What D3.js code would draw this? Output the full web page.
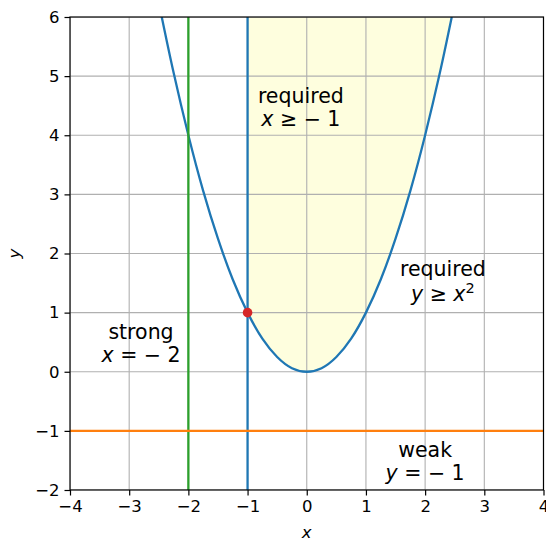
<!DOCTYPE html>
<html>
<head>
<meta charset="utf-8">
<script src="https://cdn.jsdelivr.net/npm/d3@7"></script>
<style>
  body { margin: 0; background: #fff; }
  svg { font-family: "DejaVu Sans", sans-serif; }
  .grid line { stroke: #b0b0b0; stroke-width: 1.1; }
  .note { font-size: 20.5px; fill: #000; }
</style>
</head>
<body>
<svg id="chart" width="546" height="541"></svg>
<script>
// axis ticks
var xTicks = [-4, -3, -2, -1, 0, 1, 2, 3, 4];
var yTicks = [-2, -1, 0, 1, 2, 3, 4, 5, 6];

// the curve y = x^2
var curveX = [-2.45, -2.25, -2, -1.75, -1.5, -1.25, -1, -0.75, -0.5, -0.25, 0, 0.25, 0.5, 0.75, 1, 1.25, 1.5, 1.75, 2, 2.25, 2.45];
var curveY = [6.0, 5.06, 4.0, 3.06, 2.25, 1.56, 1.0, 0.56, 0.25, 0.06, 0, 0.06, 0.25, 0.56, 1.0, 1.56, 2.25, 3.06, 4.0, 5.06, 6.0];

// constraint lines
var strongX = -2;
var requiredX = -1;
var weakY = -1;

// solution point
var solution = [-1, 1];

// annotations: anchor in data coords, two lines
var noteX = [-0.1, 2.3, -2.8, 2.0];
var noteY = [4.5, 1.5, 0.5, -1.5];
var noteTop = ["required", "required", "strong", "weak"];
var noteBottom = [
  [["x", true], [" ≥ − 1", false]],
  [["y", true], [" ≥ ", false], ["x", true], ["2", "sup"]],
  [["x", true], [" = − 2", false]],
  [["y", true], [" = − 1", false]]
];

var margin = {left: 70, right: 2.5, top: 17, bottom: 51};
var svg = d3.select("#chart");
var W = +svg.attr("width"), H = +svg.attr("height");
var w = W - margin.left - margin.right, h = H - margin.top - margin.bottom;

var x = d3.scaleLinear().domain([-4, 4]).range([0, w]);
var y = d3.scaleLinear().domain([-2, 6]).range([h, 0]);

var g = svg.append("g").attr("transform", "translate(" + margin.left + "," + margin.top + ")");

svg.append("defs").append("clipPath").attr("id", "clip")
  .append("rect").attr("width", w).attr("height", h);

var plot = g.append("g").attr("clip-path", "url(#clip)");

var pts = curveX.map(function(d, i) { return [d, curveY[i]]; });

// shaded feasible region
var region = pts.filter(function(d) { return d[0] >= requiredX; });
plot.append("path")
  .datum(region)
  .attr("fill", "#fefede")
  .attr("d", d3.area()
    .x(function(d) { return x(d[0]); })
    .y0(function(d) { return y(d[1]); })
    .y1(y(6))
    .curve(d3.curveNatural));

// grid
var grid = plot.append("g").attr("class", "grid");
grid.selectAll(".gx").data(xTicks).enter().append("line")
  .attr("x1", function(d) { return x(d); }).attr("x2", function(d) { return x(d); })
  .attr("y1", 0).attr("y2", h);
grid.selectAll(".gy").data(yTicks).enter().append("line")
  .attr("y1", function(d) { return y(d); }).attr("y2", function(d) { return y(d); })
  .attr("x1", 0).attr("x2", w);

// parabola
plot.append("path")
  .datum(pts)
  .attr("fill", "none")
  .attr("stroke", "#1f77b4")
  .attr("stroke-width", 2.3)
  .attr("d", d3.line()
    .x(function(d) { return x(d[0]); })
    .y(function(d) { return y(d[1]); })
    .curve(d3.curveNatural));

// vertical / horizontal constraints
plot.append("line")
  .attr("x1", x(requiredX)).attr("x2", x(requiredX)).attr("y1", 0).attr("y2", h)
  .attr("stroke", "#1f77b4").attr("stroke-width", 2.3);
plot.append("line")
  .attr("x1", x(strongX)).attr("x2", x(strongX)).attr("y1", 0).attr("y2", h)
  .attr("stroke", "#2ca02c").attr("stroke-width", 2.3);
plot.append("line")
  .attr("y1", y(weakY)).attr("y2", y(weakY)).attr("x1", 0).attr("x2", w)
  .attr("stroke", "#ff7f0e").attr("stroke-width", 2.3);

// solution marker
g.append("circle")
  .attr("cx", x(solution[0])).attr("cy", y(solution[1])).attr("r", 4.8)
  .attr("fill", "#d62728");

// annotations
noteX.forEach(function(nx, i)
{
  var hasSup = noteBottom[i].some(function(p) { return p[1] === "sup"; });
  var t = g.append("text")
    .attr("class", "note")
    .attr("text-anchor", "middle")
    .attr("x", x(nx))
    .attr("y", y(noteY[i]) + (hasSup ? -7 : -3));
  t.text(noteTop[i]);

  var b = g.append("text")
    .attr("class", "note")
    .attr("text-anchor", "middle")
    .attr("x", x(nx))
    .attr("y", y(noteY[i]) + (hasSup ? 18 : 20));
  noteBottom[i].forEach(function(part)
  {
    var s = b.append("tspan").text(part[0]);
    if (part[1] === true) s.attr("font-style", "italic");
    if (part[1] === "sup") s.attr("font-size", "14.5px").attr("dy", "-8.5");
  });
});

// axes
var xAxis = g.append("g")
  .attr("transform", "translate(0," + h + ")")
  .call(d3.axisBottom(x).tickValues(xTicks).tickSize(5.5).tickPadding(5)
    .tickFormat(function(d) { return d < 0 ? "−" + Math.abs(d) : d; }));
var yAxis = g.append("g")
  .call(d3.axisLeft(y).tickValues(yTicks).tickSize(5.5).tickPadding(5)
    .tickFormat(function(d) { return d < 0 ? "−" + Math.abs(d) : d; }));

[xAxis, yAxis].forEach(function(a)
{
  a.select(".domain").remove();
  a.selectAll("line").attr("stroke", "#000").attr("stroke-width", 1.2);
  a.selectAll("text").attr("font-family", "DejaVu Sans").attr("font-size", "16.5px").attr("fill", "#000");
});

// frame
g.append("rect")
  .attr("width", w).attr("height", h)
  .attr("fill", "none").attr("stroke", "#000").attr("stroke-width", 1.2);

// axis labels
svg.append("text")
  .attr("x", margin.left + w / 2).attr("y", 538)
  .attr("text-anchor", "middle")
  .attr("font-size", "16.5px").attr("font-style", "italic")
  .text("x");
svg.append("text")
  .attr("transform", "translate(20," + (margin.top + h / 2) + ") rotate(-90)")
  .attr("text-anchor", "middle")
  .attr("font-size", "16.5px").attr("font-style", "italic")
  .text("y");
</script>
</body>
</html>
